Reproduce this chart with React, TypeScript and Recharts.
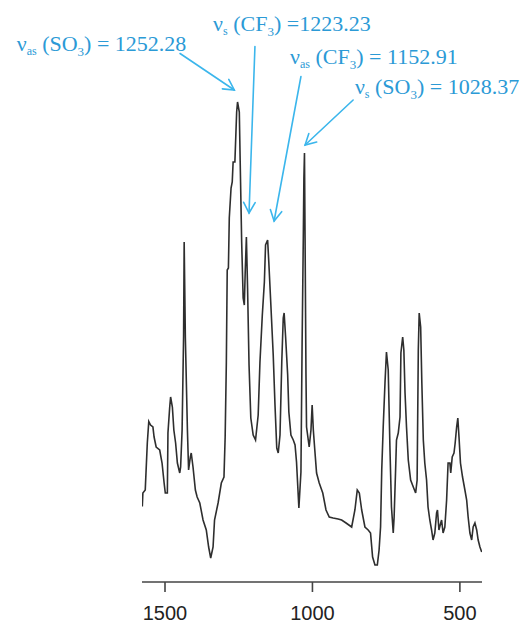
import { LineChart, Line, XAxis, YAxis, ReferenceLine, ReferenceDot } from 'recharts';

// wavenumber (cm-1) from left to right
const wavenumbers = [
  1577, 1575, 1567, 1560, 1555, 1549, 1541, 1537, 1530, 1518, 1510, 1503, 1499, 1492, 1490, 1484,
  1481, 1475, 1470, 1464, 1458, 1450, 1447, 1442, 1437, 1435, 1431, 1424, 1420, 1414, 1411, 1405,
  1397, 1391, 1382, 1371, 1360, 1352, 1345, 1337, 1332, 1320, 1309, 1300, 1296, 1292, 1289, 1285,
  1282, 1276, 1272, 1269, 1263, 1257, 1254, 1248, 1245, 1240, 1235, 1231, 1228, 1224, 1220, 1215,
  1209, 1201, 1193, 1184, 1178, 1170, 1163, 1159, 1152, 1148, 1141, 1133, 1127, 1121, 1116, 1110,
  1104, 1099, 1096, 1091, 1084, 1080, 1073, 1065, 1059, 1054, 1046, 1039, 1035, 1031, 1029, 1027,
  1025, 1022, 1020, 1011, 1005, 1001, 997, 992, 986, 977, 965, 954, 943, 930, 913, 901,
  886, 867, 856, 848, 841, 833, 822, 811, 803, 796, 788, 780, 774, 769, 765, 760,
  754, 749, 743, 737, 732, 726, 723, 718, 715, 709, 703, 700, 694, 690, 686, 681,
  675, 667, 658, 650, 645, 641, 638, 633, 629, 624, 619, 613, 608, 602, 596, 591,
  585, 579, 576, 571, 565, 562, 557, 551, 545, 540, 534, 531, 526, 520, 516, 511,
  507, 503, 498, 491, 483, 477, 472, 466, 460, 455, 449, 443, 438, 432, 426,
];

// relative absorbance (arbitrary units)
const absorbance = [
  15.1, 17.8, 18.4, 27.8, 32.1, 31.4, 31.0, 29.0, 27.0, 26.4, 23.8, 19.8, 17.8, 17.8, 29.8, 35.0,
  37.0, 35.0, 30.4, 27.8, 23.8, 21.8, 23.0, 30.4, 49.0, 68.0, 49.0, 30.4, 22.4, 25.0, 25.8, 23.0,
  18.4, 17.0, 15.8, 12.4, 10.4, 7.0, 4.8, 7.0, 12.4, 15.8, 19.8, 21.0, 29.0, 43.8, 62.4, 62.8,
  72.8, 78.8, 80.0, 84.0, 84.0, 94.0, 96.0, 94.0, 84.0, 68.0, 56.8, 55.4, 62.0, 69.0, 58.8, 43.4,
  32.8, 29.4, 28.4, 33.4, 44.0, 53.4, 60.0, 67.4, 68.4, 64.0, 55.4, 45.4, 35.4, 26.8, 25.8, 29.4,
  44.0, 52.8, 53.8, 49.0, 41.4, 34.0, 29.4, 28.4, 27.4, 24.0, 14.8, 22.0, 48.0, 68.8, 80.8, 85.8,
  68.8, 41.8, 31.0, 27.0, 30.4, 35.4, 30.4, 26.4, 21.8, 19.8, 17.8, 14.4, 13.0, 12.8, 12.6, 12.4,
  11.8, 11.0, 14.4, 18.4, 17.8, 14.4, 11.0, 10.4, 9.8, 5.0, 3.4, 3.4, 6.4, 11.0, 22.4, 31.0,
  39.8, 46.0, 42.4, 26.4, 15.0, 9.8, 13.0, 22.4, 28.4, 29.8, 33.0, 45.8, 49.0, 46.4, 37.8, 31.0,
  24.4, 20.4, 19.0, 17.8, 20.4, 46.4, 53.8, 51.0, 39.8, 28.4, 23.8, 20.4, 15.0, 12.4, 10.4, 8.4,
  9.8, 13.8, 14.4, 10.4, 11.8, 12.4, 9.8, 11.0, 16.4, 23.8, 23.8, 21.8, 25.0, 25.8, 27.8, 31.0,
  32.8, 29.0, 23.8, 21.0, 18.4, 16.4, 13.0, 9.8, 8.4, 11.0, 11.8, 10.4, 8.4, 7.0, 6.0,
];

const xTicks = [500, 1000, 1500];

// peak assignments: label parts, text anchor and arrow (data coords)
const labelSub = ['as', 's', 'as', 's'];
const labelGroup = ['SO', 'CF', 'CF', 'SO'];
const labelEq = [' = ', ' =', ' = ', ' = '];
const labelValue = ['1252.28', '1223.23', '1152.91', '1028.37'];
const labelAt = [[2003, 106.2], [1337, 110.2], [1076, 103.7], [856, 97.6]];
const arrowFrom = [[1449, 105.7], [1195, 107.1], [1039, 101.1], [862, 96.4]];
const arrowTo = [[1265, 98.4], [1215, 73.8], [1130, 72.2], [1025, 87.4]];

const data = wavenumbers.map((wn, i) => ({ wn, a: absorbance[i] }));

const TEXT_BLUE = '#2b9ad6';
const ARROW_BLUE = '#3bb6ec';

const Arrow = (props: any) => {
  const { x1, y1, x2, y2 } = props;
  const ang = Math.atan2(y2 - y1, x2 - x1);
  const len = 12;
  const spread = 0.5;
  const h1x = x2 - len * Math.cos(ang - spread);
  const h1y = y2 - len * Math.sin(ang - spread);
  const h2x = x2 - len * Math.cos(ang + spread);
  const h2y = y2 - len * Math.sin(ang + spread);
  return (
    <g stroke={ARROW_BLUE} strokeWidth={1.6} fill="none" strokeLinecap="round">
      <line x1={x1} y1={y1} x2={x2} y2={y2} />
      <polyline points={`${h1x},${h1y} ${x2},${y2} ${h2x},${h2y}`} />
    </g>
  );
};

const makeLabel = (i: number) => (props: any) => (
  <text
    x={props.cx}
    y={props.cy}
    fill={TEXT_BLUE}
    fontFamily="'Liberation Serif', 'Times New Roman', serif"
    fontSize={22}
  >
    <tspan>ν</tspan>
    <tspan fontSize={12} dy={4}>{labelSub[i]}</tspan>
    <tspan dy={-4}>{' (' + labelGroup[i]}</tspan>
    <tspan fontSize={13} dy={5}>3</tspan>
    <tspan dy={-5}>{')' + labelEq[i] + labelValue[i]}</tspan>
  </text>
);

export default function App() {
  return (
    <div style={{ position: 'absolute', left: 0, top: 0, background: '#fff' }}>
      <LineChart width={528} height={624} data={data} margin={{ top: 12, right: 46, bottom: 2, left: 142 }}>
        <XAxis
          dataKey="wn"
          type="number"
          domain={[425, 1578]}
          reversed
          allowDataOverflow
          ticks={xTicks}
          tickSize={10}
          tickMargin={14}
          height={40}
          stroke="#444"
          strokeWidth={1.6}
          tick={{ fill: '#222', fontSize: 20, fontFamily: "'Liberation Sans', Arial, sans-serif" }}
        />
        <YAxis type="number" domain={[0, 114]} allowDataOverflow hide />
        <Line
          dataKey="a"
          type="linear"
          stroke="#2e2e2e"
          strokeWidth={1.6}
          dot={false}
          isAnimationActive={false}
        />
        {labelValue.map((_, i) => (
          <ReferenceLine
            key={'arrow' + i}
            segment={[
              { x: arrowFrom[i][0], y: arrowFrom[i][1] },
              { x: arrowTo[i][0], y: arrowTo[i][1] },
            ]}
            ifOverflow="visible"
            shape={Arrow}
          />
        ))}
        {labelValue.map((_, i) => (
          <ReferenceDot
            key={'label' + i}
            x={labelAt[i][0]}
            y={labelAt[i][1]}
            r={0}
            ifOverflow="visible"
            shape={makeLabel(i)}
          />
        ))}
      </LineChart>
    </div>
  );
}
